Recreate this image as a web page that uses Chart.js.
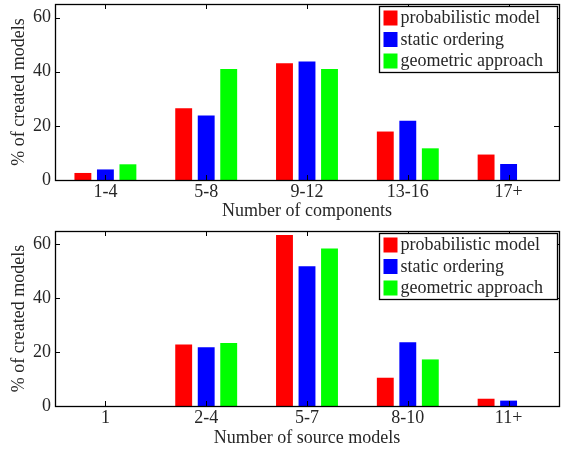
<!DOCTYPE html>
<html>
<head>
<meta charset="utf-8">
<script src="https://cdn.jsdelivr.net/npm/chart.js@4"></script>
<style>
  html, body { margin: 0; padding: 0; background: #fff; }
  body { width: 562px; height: 453px; position: relative; overflow: hidden; }
  canvas { position: absolute; left: 0; }
</style>
</head>
<body>
<canvas id="c1" width="562" height="226" style="top:0px"></canvas>
<canvas id="c2" width="562" height="227" style="top:226px"></canvas>
<script>
// ---------- data ----------
const seriesNames = ['probabilistic model', 'static ordering', 'geometric approach'];
const seriesColors = ['#ff0000', '#0000ff', '#00ff00'];

const componentCategories = ['1-4', '5-8', '9-12', '13-16', '17+'];
const componentProbabilistic = [2.6, 26.5, 43.1, 17.9, 9.4];
const componentStatic = [3.9, 23.8, 43.8, 21.9, 5.9];
const componentGeometric = [5.8, 41.0, 41.0, 11.7, 0];

const sourceCategories = ['1', '2-4', '5-7', '8-10', '11+'];
const sourceProbabilistic = [0, 22.8, 63.5, 10.5, 2.7];
const sourceStatic = [0, 21.8, 51.9, 23.7, 2.0];
const sourceGeometric = [0, 23.4, 58.5, 17.3, 0];

const yTickValues = [0, 20, 40, 60];
const yMax = 65;

// ---------- styling ----------
const FONT = 'Liberation Serif, Times New Roman, serif';
const TEXT = '#262626';

const boxPlugin = {
  id: 'matlabBox',
  afterDraw(chart) {
    const ctx = chart.ctx;
    const a = chart.chartArea;
    const xs = chart.scales.x, ys = chart.scales.y;
    ctx.save();
    ctx.strokeStyle = '#000';
    ctx.lineWidth = 1;
    const tl = 5;
    ctx.beginPath();
    xs.ticks.forEach((t, i) => {
      const px = Math.round(xs.getPixelForTick(i)) + 0.5;
      ctx.moveTo(px, a.top); ctx.lineTo(px, a.top + tl);
      ctx.moveTo(px, a.bottom); ctx.lineTo(px, a.bottom - tl);
    });
    ys.ticks.forEach(t => {
      const py = Math.round(ys.getPixelForValue(t.value)) + 0.5;
      ctx.moveTo(a.left, py); ctx.lineTo(a.left + tl, py);
      ctx.moveTo(a.right, py); ctx.lineTo(a.right - tl, py);
    });
    ctx.stroke();
    ctx.lineWidth = 1.3;
    ctx.strokeRect(Math.round(a.left) + 0.5, Math.round(a.top) + 0.5,
                   Math.round(a.right - a.left), Math.round(a.bottom - a.top));
    // legend
    const lw = 178, lh = 66;
    const lx = Math.round(a.right - 2.5 - lw) + 0.5;
    const ly = Math.round(a.top + 2) + 0.5;
    ctx.fillStyle = '#fff';
    ctx.fillRect(lx, ly, lw, lh);
    ctx.lineWidth = 1.3;
    ctx.strokeStyle = '#000';
    ctx.strokeRect(lx, ly, lw, lh);
    ctx.font = '18px ' + FONT;
    ctx.textBaseline = 'middle';
    ctx.textAlign = 'left';
    chart.data.datasets.forEach((ds, i) => {
      const cy = ly + 11.5 + i * 21.5;
      ctx.fillStyle = ds.backgroundColor;
      ctx.fillRect(lx + 4, cy - 7.5, 14, 15);
      ctx.fillStyle = TEXT;
      ctx.fillText(ds.label, lx + 21, cy + 0.5);
    });
    ctx.restore();
  }
};

function makeChart(id, categories, values, xTitle, padTop, xAxisHeight) {
  return new Chart(document.getElementById(id), {
    type: 'bar',
    data: {
      labels: categories,
      datasets: values.map((v, i) => ({
        label: seriesNames[i],
        data: v,
        backgroundColor: seriesColors[i],
        borderWidth: 0,
        categoryPercentage: 0.67,
        barPercentage: 0.75
      }))
    },
    options: {
      responsive: false,
      animation: false,
      devicePixelRatio: 1,
      layout: { padding: { top: padTop, right: 3, left: 0, bottom: 0 } },
      plugins: { legend: { display: false }, tooltip: { enabled: false } },
      scales: {
        x: {
          grid: { display: false, drawTicks: false },
          border: { display: false },
          ticks: { color: TEXT, font: { family: FONT, size: 18 }, padding: 1, maxRotation: 0 },
          title: { display: true, text: xTitle, color: TEXT, font: { family: FONT, size: 18 }, padding: { top: 0, bottom: 4 } },
          afterFit(s) { s.height = xAxisHeight; s.paddingLeft = 0; s.paddingRight = 0; }
        },
        y: {
          min: 0, max: yMax,
          grid: { display: false, drawTicks: false },
          border: { display: false },
          afterBuildTicks(s) { s.ticks = yTickValues.map(v => ({ value: v })); },
          ticks: { color: TEXT, font: { family: FONT, size: 18 }, padding: 4 },
          title: { display: true, text: '% of created models', color: TEXT, font: { family: FONT, size: 18 }, padding: { top: 8, bottom: 0 } },
          afterFit(s) { s.width = 55; s.paddingTop = 0; s.paddingBottom = 0; }
        }
      }
    },
    plugins: [boxPlugin]
  });
}

makeChart('c1', componentCategories,
  [componentProbabilistic, componentStatic, componentGeometric],
  'Number of components', 4, 46);
makeChart('c2', sourceCategories,
  [sourceProbabilistic, sourceStatic, sourceGeometric],
  'Number of source models', 5, 47);
</script>
</body>
</html>
